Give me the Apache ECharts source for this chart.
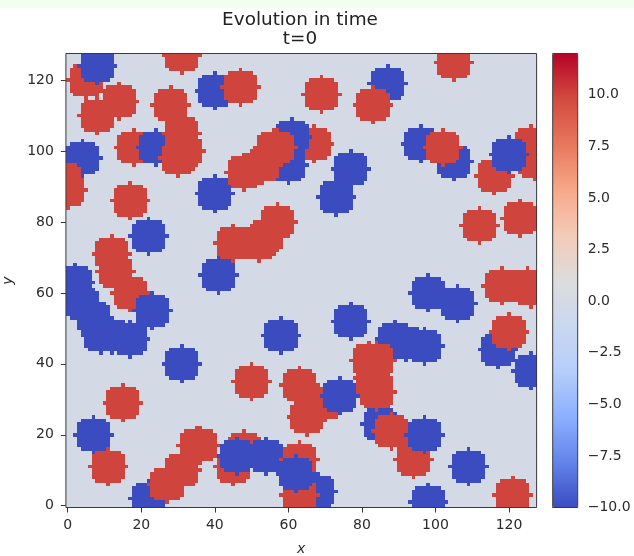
<!DOCTYPE html>
<html>
<head>
<meta charset="utf-8">
<style>html,body{margin:0;padding:0;background:#fff}#c{width:634px;height:556px}#c canvas{filter:blur(0.4px)}</style>
<script src="https://cdn.jsdelivr.net/npm/echarts@6/dist/echarts.min.js"></script>
</head>
<body>
<div id="c"></div>
<script>
// Field values: blobs listed in paint order (later covers earlier).
const blobCols = [
  5,8,14,8,40,47,18,24,28,31,32,30,4,0,-1,22,40,17,31,
  2,4,7,9,12,17,12,13,17,23,41,
  22,27,31,35,36,7,11,48,45,46,54,63,68,63,62,
  63,65,70,74,85,88,94,97,89,92,97,82,84,83,84,
  77,98,106,118,125,126,117,120,126,109,98,121,58,50,15,31,
  67,60,61,48,53,56,57,45,52,54,57,77,73,
  87,83,69,105,96,105,102,116,126,127,120,112,123
];
const blobRows = [
  120,124,114,110,117,118,101,101,113,105,100,98,98,89,92,76,88,86,127,
  63,57,53,48,48,47,71,66,60,55,65,
  2,6,10,17,17,20,11,16,11,14,14,13,4,3,9,
  34,25,29,31,23,21,13,20,47,46,45,41,41,36,32,
  52,60,57,62,62,61,44,49,38,11,1,3,48,35,29,40,
  102,96,104,94,96,101,101,74,74,76,80,95,87,
  119,113,116,125,102,97,101,93,102,97,99,79,81
];
const blobValues = [
  10,-10,10,10,-10,10,10,-10,10,10,10,10,-10,10,10,-10,-10,10,10,
  -10,-10,-10,-10,-10,-10,10,10,10,-10,-10,
  -10,10,10,10,10,-10,10,10,10,-10,-10,10,-10,10,-10,
  10,10,10,-10,-10,10,10,-10,-10,-10,-10,10,10,10,10,
  -10,-10,-10,10,10,10,-10,10,-10,-10,-10,10,-10,10,10,-10,
  10,-10,-10,10,10,10,10,10,10,10,10,-10,-10,
  -10,10,10,10,-10,-10,10,10,10,10,-10,10,10
];
const backgroundValue = 0;
const xTickLabels = ['0','20','40','60','80','100','120'];
const yTickLabels = ['0','20','40','60','80','100','120'];
const colorbarTicks = [-10,-7.5,-5,-2.5,0,2.5,5,7.5,10];
const colorbarRange = [-10,12];
const coolwarmStops = ['#3b4cc0','#6384eb','#8db0fe','#b6cefa','#c9d7f0','#dddcdc','#f2cbb7','#f7a889','#e8765c','#d24b40','#b40426'];
const fieldSize = 128;
const blobRadiusSquared = 25;

const categories = Array.from({length: fieldSize}, (_, i) => String(i));
const field = Array.from({length: fieldSize}, () => new Array(fieldSize).fill(backgroundValue));
blobCols.forEach((cx, k) => {
  const cy = blobRows[k];
  for (let dy = -5; dy <= 5; dy++) for (let dx = -5; dx <= 5; dx++) {
    const col = cx + dx, row = cy + dy;
    if (dx*dx + dy*dy <= blobRadiusSquared && col >= 0 && col < fieldSize && row >= 0 && row < fieldSize) {
      field[row][col] = blobValues[k];
    }
  }
});
const cells = [];
field.forEach((r, row) => r.forEach((v, col) => cells.push([col, row, v])));

const TXT = '#2b2b2b', FONT = '"DejaVu Sans"', LINE = '#3a3a3a';
const tickFont = {color: TXT, fontFamily: FONT, fontSize: 14};
const chart = echarts.init(document.getElementById('c'), null, {renderer: 'canvas'});
chart.setOption({
  animation: false,
  backgroundColor: '#ffffff',
  graphic: [{type: 'rect', left: 0, top: 0, shape: {width: 634, height: 8}, style: {fill: '#f2fef0'}, silent: true, z: -10}],
  title: {
    text: 'Evolution in time\nt=0', left: 295, top: 6, textAlign: 'center',
    textStyle: {color: '#222', fontFamily: FONT, fontSize: 18.4, fontWeight: 'normal', lineHeight: 19}
  },
  grid: [
    {left: 65.9, top: 53.5, width: 470.7, height: 454, show: true, z: 3, backgroundColor: 'transparent', borderColor: LINE, borderWidth: 1, outerBoundsMode: 'none'},
    {left: 552.7, top: 53.5, width: 25, height: 454, show: true, z: 6, backgroundColor: 'transparent', borderColor: LINE, borderWidth: 1, outerBoundsMode: 'none'}
  ],
  xAxis: [
    {
      type: 'category', gridIndex: 0, data: categories, name: 'x', nameLocation: 'middle', nameGap: 35,
      nameTextStyle: {color: TXT, fontFamily: FONT, fontSize: 14, fontStyle: 'italic'},
      axisLine: {show: false},
      axisTick: {show: true, interval: 19, alignWithLabel: true, length: 5, lineStyle: {color: LINE}},
      axisLabel: Object.assign({interval: 19, margin: 11, formatter: v => xTickLabels[Number(v) / 20] ?? ''}, tickFont),
      splitLine: {show: false}
    },
    {type: 'value', gridIndex: 1, show: false, min: 0, max: 1}
  ],
  yAxis: [
    {
      type: 'category', gridIndex: 0, data: categories, name: 'y', nameLocation: 'middle', nameGap: 51, nameRotate: 90,
      nameTextStyle: {color: TXT, fontFamily: FONT, fontSize: 14, fontStyle: 'italic'},
      axisLine: {show: false},
      axisTick: {show: true, interval: 19, alignWithLabel: true, length: 5, lineStyle: {color: LINE}},
      axisLabel: Object.assign({interval: 19, margin: 12, formatter: v => yTickLabels[Number(v) / 20] ?? ''}, tickFont),
      splitLine: {show: false}
    },
    {
      type: 'value', gridIndex: 1, position: 'right', min: colorbarRange[0], max: colorbarRange[1], interval: 2.5,
      axisLine: {show: false},
      axisTick: {show: true, length: 5, customValues: colorbarTicks, lineStyle: {color: LINE}},
      axisLabel: Object.assign({margin: 10, customValues: colorbarTicks, formatter: v => Number(v).toFixed(1).replace('-', '\u2212')}, tickFont),
      splitLine: {show: false}
    }
  ],
  visualMap: {
    type: 'continuous', min: colorbarRange[0], max: colorbarRange[1], seriesIndex: 0, dimension: 2,
    calculable: false, hoverLink: false, left: 552.7, top: 53.5, itemWidth: 25, itemHeight: 454, padding: 0,
    text: null, inRange: {color: coolwarmStops}
  },
  series: [{
    type: 'custom', xAxisIndex: 0, yAxisIndex: 0, data: cells, silent: true, progressive: 0, clip: true,
    encode: {x: 0, y: 1},
    renderItem: function (params, api) {
      const c = api.coord([api.value(0), api.value(1)]);
      const s = api.size([1, 1]);
      const x0 = Math.round(c[0] - s[0] / 2), x1 = Math.round(c[0] + s[0] / 2);
      const y0 = Math.round(c[1] - s[1] / 2), y1 = Math.round(c[1] + s[1] / 2);
      return {type: 'rect', shape: {x: x0, y: y0, width: x1 - x0, height: y1 - y0}, style: {fill: api.visual('color')}};
    }
  }]
});
</script>
</body>
</html>
